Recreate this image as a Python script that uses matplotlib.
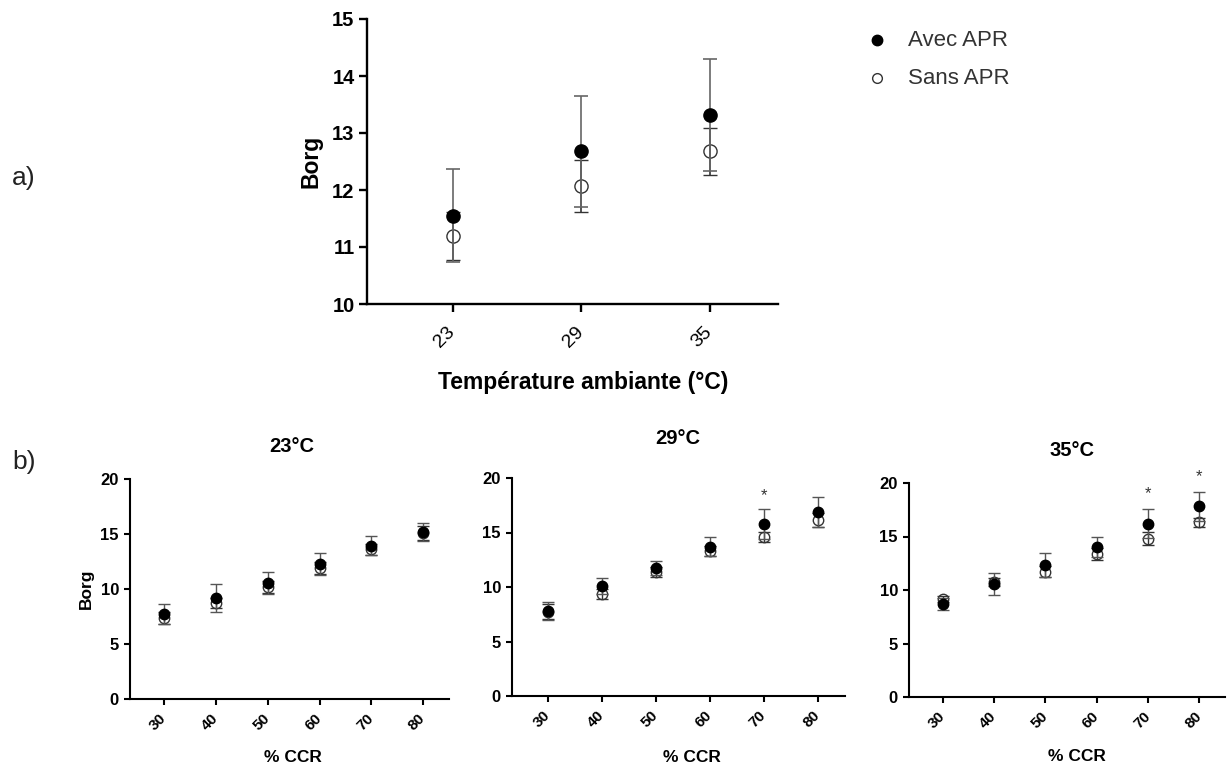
import matplotlib
matplotlib.use("Agg")
import matplotlib.pyplot as plt
from matplotlib.lines import Line2D

plt.rcParams['font.family'] = ['Liberation Sans', 'DejaVu Sans']

# ---- Panel a) data ----
temps = [23, 29, 35]
avec_mean = [11.55, 12.68, 13.32]
avec_sd = [0.82, 0.97, 0.98]
sans_mean = [11.20, 12.07, 12.68]
sans_sd = [0.42, 0.46, 0.41]

# ---- Panel b) data ----
ccr = [30, 40, 50, 60, 70, 80]
titles_b = ["23°C", "29°C", "35°C"]
avec_b = [
    [7.7, 9.2, 10.55, 12.3, 13.94, 15.2],
    [7.82, 10.1, 11.75, 13.7, 15.74, 16.87],
    [8.69, 10.56, 12.34, 14.06, 16.19, 17.81],
]
avec_b_sd = [
    [0.9, 1.3, 1.0, 1.0, 0.85, 0.8],
    [0.83, 0.75, 0.68, 0.87, 1.38, 1.35],
    [0.55, 1.0, 1.16, 0.94, 1.37, 1.35],
]
sans_b = [
    [7.4, 8.7, 10.2, 11.9, 13.6, 15.1],
    [7.75, 9.35, 11.38, 13.28, 14.63, 16.13],
    [9.16, 10.75, 11.72, 13.38, 14.81, 16.31],
]
sans_b_sd = [
    [0.55, 0.45, 0.55, 0.55, 0.5, 0.6],
    [0.7, 0.45, 0.5, 0.46, 0.46, 0.64],
    [0.3, 0.35, 0.5, 0.54, 0.62, 0.38],
]
# significance stars: (panel index, ccr value, y position)
stars = [(1, 70, 18.4), (2, 70, 19.0), (2, 80, 20.6)]

W, H = 1229, 766
fig = plt.figure(figsize=(W / 100, H / 100), dpi=100)

def style_axes(ax, lw, ticklen):
    for s in ['top', 'right']:
        ax.spines[s].set_visible(False)
    for s in ['left', 'bottom']:
        ax.spines[s].set_linewidth(lw)
        ax.spines[s].set_color('black')
    ax.tick_params(width=lw, length=ticklen, direction='out', colors='black')

# ---- Top panel ----
ax = fig.add_axes([367 / W, 1 - 304 / H, 411 / W, 285 / H])
style_axes(ax, 1.7, 5.5)
ax.errorbar(temps, sans_mean, yerr=sans_sd, fmt='o', mfc='none', mec='#333333',
            ms=9.5, mew=1.0, ecolor='#333333', elinewidth=1.2, capsize=5, capthick=1.2,
            zorder=2)
ax.errorbar(temps, avec_mean, yerr=avec_sd, fmt='o', mfc='black', mec='black',
            ms=9.5, ecolor='#666666', elinewidth=1.2, capsize=5, capthick=1.2,
            zorder=3)
ax.set_xlim(19, 38.2)
ax.set_ylim(10, 15)
ax.set_xticks(temps)
ax.set_xticklabels([str(t) for t in temps], rotation=45, fontsize=14,
                   ha='right', va='center', rotation_mode='anchor')
ax.tick_params(axis='x', pad=13)
ax.set_yticks([10, 11, 12, 13, 14, 15])
ax.set_yticklabels(['10', '11', '12', '13', '14', '15'], fontsize=14.5, fontweight='bold')
ax.set_ylabel('Borg', fontsize=16.5, fontweight='bold', va='center')
ax.yaxis.set_label_coords(-0.137, 0.5)
ax.set_xlabel('Température ambiante (°C)', fontsize=16.5, fontweight='bold', va='center')
ax.xaxis.set_label_coords(0.526, -0.274)

# legend
fig.add_artist(Line2D([877 / W], [1 - 40 / H], transform=fig.transFigure, marker='o',
                      ms=7.5, mfc='black', mec='black', ls='none'))
fig.add_artist(Line2D([877 / W], [1 - 78 / H], transform=fig.transFigure, marker='o',
                      ms=7, mfc='none', mec='#333333', mew=1.0, ls='none'))
fig.text(908 / W, 1 - 40 / H, 'Avec APR', fontsize=16, ha='left', va='center', color='#333333')
fig.text(908 / W, 1 - 78 / H, 'Sans APR', fontsize=16, ha='left', va='center', color='#333333')

fig.text(12 / W, 1 - 178 / H, 'a)', fontsize=19, ha='left', va='center', color='#222222')
fig.text(12 / W, 1 - 462 / H, 'b)', fontsize=19, ha='left', va='center', color='#222222')

# ---- Bottom panels ----
positions = [
    [130 / W, 1 - 699 / H, 319 / W, 220 / H],
    [512 / W, 1 - 696 / H, 333 / W, 218 / H],
    [909 / W, 1 - 697 / H, 316 / W, 214 / H],
]
title_xy = [(292, 447), (678, 438), (1072, 450)]
xlabel_coords = [(0.51, -0.264), (0.54, -0.28), (0.53, -0.28)]
for i in range(3):
    axb = fig.add_axes(positions[i])
    style_axes(axb, 1.5, 4.5)
    axb.errorbar(ccr, sans_b[i], yerr=sans_b_sd[i], fmt='o', mfc='none', mec='#333333',
                 ms=7.5, mew=1.0, ecolor='#333333', elinewidth=1.0, capsize=4, capthick=1.0,
                 zorder=2)
    axb.errorbar(ccr, avec_b[i], yerr=avec_b_sd[i], fmt='o', mfc='black', mec='black',
                 ms=7.5, ecolor='#555555', elinewidth=1.0, capsize=4, capthick=1.0,
                 zorder=3)
    axb.set_xlim(23.4, 85)
    axb.set_ylim(0, 20)
    axb.set_xticks(ccr)
    axb.set_xticklabels([str(c) for c in ccr], rotation=45, fontsize=11, fontweight='bold',
                        ha='right', va='center', rotation_mode='anchor')
    axb.tick_params(axis='x', pad=8)
    axb.set_yticks([0, 5, 10, 15, 20])
    axb.set_yticklabels(['0', '5', '10', '15', '20'], fontsize=12, fontweight='bold')
    axb.set_xlabel('% CCR', fontsize=12.5, fontweight='bold', va='center')
    axb.xaxis.set_label_coords(*xlabel_coords[i])
    fig.text(title_xy[i][0] / W, 1 - title_xy[i][1] / H, titles_b[i], fontsize=14.5,
             fontweight='bold', ha='center', va='center')
    if i == 0:
        axb.set_ylabel('Borg', fontsize=12.5, fontweight='bold', va='center')
        axb.yaxis.set_label_coords(-0.138, 0.5)
    for (p, xv, yv) in stars:
        if p == i:
            axb.text(xv, yv, '*', ha='center', va='center', fontsize=12, color='#333333',
                     clip_on=False)

fig.savefig('out.png', dpi=100)
